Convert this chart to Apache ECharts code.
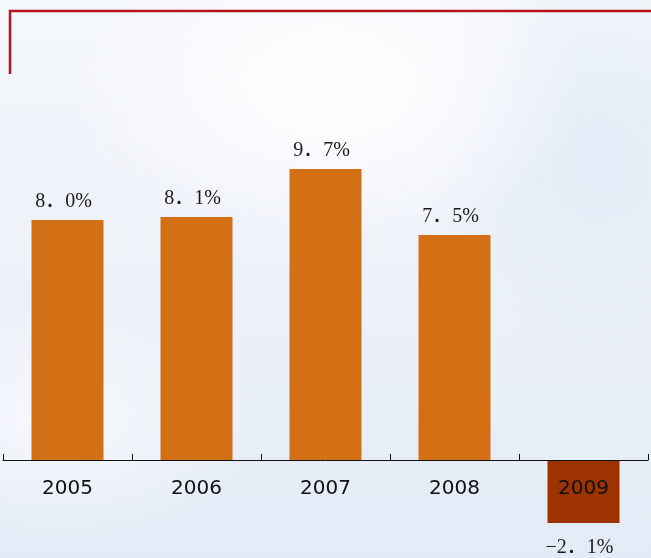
<!DOCTYPE html>
<html>
<head>
<meta charset="utf-8">
<script src="https://cdn.jsdelivr.net/npm/echarts@6/dist/echarts.min.js"></script>
<style>
  html, body { margin: 0; padding: 0; }
  body {
    width: 651px; height: 558px; overflow: hidden;
    background:
      radial-gradient(ellipse 260px 160px at 330px 90px, rgba(255,255,255,0.95), rgba(255,255,255,0) 100%),
      radial-gradient(ellipse 200px 120px at 60px 420px, rgba(250,251,255,0.8), rgba(250,251,255,0) 100%),
      radial-gradient(ellipse 180px 200px at 600px 160px, rgba(226,234,246,0.9), rgba(226,234,246,0) 100%),
      linear-gradient(180deg, #f4f7fb 0%, #eef2f9 45%, #e4ebf6 100%);
  }
  #chart { width: 651px; height: 558px; }
</style>
</head>
<body>
<div id="chart"></div>
<script>
// GDP growth by year, percent
const years = ['2005', '2006', '2007', '2008', '2009'];
const growth = [8.0, 8.1, 9.7, 7.5, -2.1];

const ORANGE = '#d36f15';
const DARK = '#9c3300';

function pctLabel(v) {
  const s = Math.abs(v).toFixed(1).split('.');
  return (v < 0 ? '\u2212' : '') + s[0] + '\uFF0E' + s[1] + '%';
}

const chart = echarts.init(document.getElementById('chart'));
chart.setOption({
  backgroundColor: 'transparent',
  animation: false,
  graphic: [{
    type: 'polyline',
    shape: { points: [[10, 74], [10, 11], [651, 11]] },
    style: { stroke: '#b5141c', lineWidth: 2.5, fill: null }
  }],
  // the zero line sits on the grid's bottom edge; the negative bar hangs below it
  grid: { left: 3, right: 3, top: 40, bottom: 98, outerBoundsMode: 'none', containLabel: false },
  xAxis: {
    type: 'category',
    data: years,
    z: 10,
    axisLine: { lineStyle: { color: '#111', width: 1 } },
    axisTick: { show: true, inside: true, length: 6, lineStyle: { color: '#111', width: 1 } },
    axisLabel: {
      margin: 19,
      color: '#111',
      fontFamily: 'DejaVu Sans, sans-serif',
      fontSize: 20
    }
  },
  yAxis: {
    type: 'value',
    min: 0,
    max: 14,
    show: false,
    splitLine: { show: false }
  },
  series: [{
    type: 'bar',
    clip: false,
    barWidth: 72,
    data: growth.map(v => ({
      value: v,
      itemStyle: { color: v < 0 ? DARK : ORANGE },
      label: { position: v < 0 ? 'bottom' : 'top', distance: v < 0 ? 15 : 8 }
    })),
    label: {
      show: true,
      formatter: p => pctLabel(p.value),
      offset: [-4, 0],
      color: '#1a1a1a',
      fontFamily: 'Liberation Serif, "Noto Sans CJK SC", serif',
      fontSize: 20
    }
  }]
});
</script>
</body>
</html>
